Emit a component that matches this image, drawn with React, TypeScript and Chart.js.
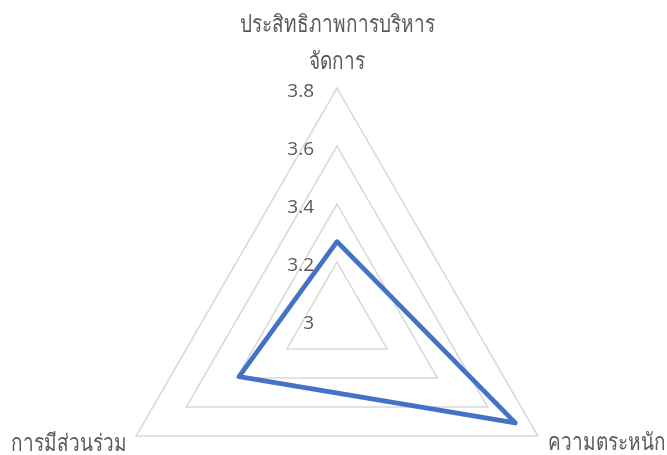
import React, { useEffect, useRef } from "react";
import { Chart, registerables } from "chart.js";

Chart.register(...registerables);

const categories: string[][] = [
  ["ประสิทธิภาพการบริหาร", "จัดการ"],
  ["ความตระหนัก"],
  ["การมีส่วนร่วม"],
];
const seriesValues: number[] = [3.27, 3.71, 3.39];
const scaleMin = 3;
const scaleMax = 3.8;
const scaleStep = 0.2;

const TEXT = "#595959";
const FONT_FAMILY = "'Open Sans', 'Noto Sans', sans-serif";
const THAI_STRETCH = 1.25;

const fmt = (v: number) => String(Number(v.toFixed(1)));

const labelPlugin = {
  id: "excelLabels",
  beforeDatasetsDraw(chart: any) {
    const scale = chart.scales.r;
    const ctx = chart.ctx;
    ctx.save();
    ctx.fillStyle = TEXT;
    ctx.font = `19px ${FONT_FAMILY}`;
    ctx.textAlign = "right";
    ctx.textBaseline = "middle";
    scale.ticks.forEach((t: any) => {
      const d = scale.getDistanceFromCenterForValue(t.value);
      const p = scale.getPointPosition(0, d);
      ctx.fillText(fmt(t.value), p.x - 23, p.y + 4);
    });
    const drawThai = (txt: string, x: number, y: number, align: string) => {
      ctx.save();
      ctx.textAlign = align;
      ctx.translate(x, y);
      ctx.scale(1, THAI_STRETCH);
      ctx.fillText(txt, 0, 0);
      ctx.restore();
    };
    categories.forEach((lines, i) => {
      const p = scale.getPointPosition(i, scale.drawingArea + 10);
      if (i === 0) {
        const n = lines.length;
        lines.forEach((ln, k) => {
          drawThai(ln, p.x, p.y - 16 - (n - 1 - k) * 37, "center");
        });
      } else if (i === 1) {
        drawThai(lines[0], p.x + 1, p.y + 2, "left");
      } else {
        drawThai(lines[0], p.x, p.y + 3, "right");
      }
    });
    ctx.restore();
  },
};

export default function App() {
  const ref = useRef<HTMLCanvasElement | null>(null);
  useEffect(() => {
    document.body.style.margin = "0";
    const chart = new Chart(ref.current as HTMLCanvasElement, {
      type: "radar",
      data: {
        labels: categories.map((c) => c.join(" ")),
        datasets: [
          {
            data: seriesValues,
            borderColor: "#4472C4",
            borderWidth: 4.75,
            backgroundColor: "rgba(0,0,0,0)",
            fill: false,
            pointRadius: 0,
            borderJoinStyle: "round",
            tension: 0,
          },
        ],
      },
      options: {
        responsive: false,
        animation: false,
        devicePixelRatio: 1,
        layout: { padding: { left: 105, right: 98, top: 88, bottom: 0 } },
        plugins: { legend: { display: false }, tooltip: { enabled: false } },
        scales: {
          r: {
            min: scaleMin,
            max: scaleMax,
            ticks: { stepSize: scaleStep, display: false },
            grid: { color: "#d9d9d9", lineWidth: 1.5, circular: false },
            angleLines: { display: false },
            pointLabels: { display: false },
            afterFit: (scale: any) => {
              // radius set by the width of the plot area; triangle apex at the top edge
              scale.drawingArea = Math.floor((scale.right - scale.left) / 2);
              scale.xCenter = Math.floor((scale.left + scale.right) / 2);
              scale.yCenter = scale.top + scale.drawingArea;
            },
          },
        },
      },
      plugins: [labelPlugin],
    } as any);
    return () => chart.destroy();
  }, []);
  return <canvas ref={ref} width={667} height={455} style={{ display: "block" }} />;
}
